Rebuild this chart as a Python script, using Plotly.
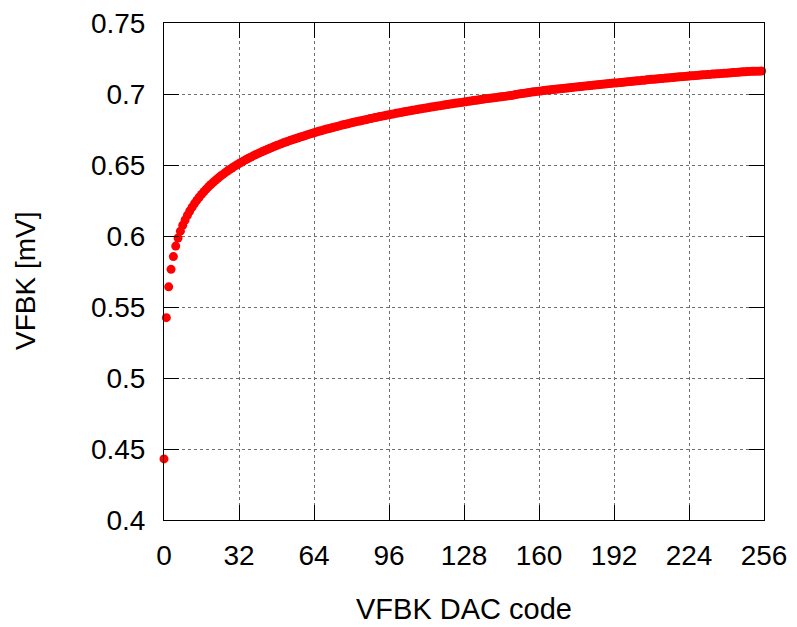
import plotly.graph_objects as go

# DAC code sweep 0..255 and the measured VFBK level at each code
dac_code = list(range(256))

vfbk = [
    0.4430, 0.5425, 0.5642, 0.5765, 0.5855, 0.5929, 0.5986, 0.6034,
    0.6076, 0.6113, 0.6146, 0.6176, 0.6203, 0.6228, 0.6251, 0.6273,
    0.6293, 0.6312, 0.6330, 0.6347, 0.6363, 0.6378, 0.6392, 0.6406,
    0.6420, 0.6432, 0.6445, 0.6457, 0.6468, 0.6479, 0.6490, 0.6500,
    0.6510, 0.6519, 0.6529, 0.6538, 0.6547, 0.6555, 0.6564, 0.6572,
    0.6580, 0.6587, 0.6595, 0.6602, 0.6609, 0.6616, 0.6623, 0.6630,
    0.6637, 0.6643, 0.6649, 0.6656, 0.6662, 0.6668, 0.6674, 0.6679,
    0.6685, 0.6690, 0.6696, 0.6701, 0.6706, 0.6712, 0.6717, 0.6722,
    0.6727, 0.6732, 0.6737, 0.6741, 0.6746, 0.6751, 0.6755, 0.6759,
    0.6764, 0.6768, 0.6772, 0.6777, 0.6781, 0.6785, 0.6789, 0.6793,
    0.6797, 0.6801, 0.6805, 0.6808, 0.6812, 0.6816, 0.6819, 0.6823,
    0.6827, 0.6830, 0.6834, 0.6837, 0.6841, 0.6844, 0.6847, 0.6851,
    0.6854, 0.6857, 0.6860, 0.6864, 0.6867, 0.6870, 0.6873, 0.6876,
    0.6879, 0.6882, 0.6885, 0.6888, 0.6891, 0.6894, 0.6897, 0.6899,
    0.6902, 0.6905, 0.6908, 0.6910, 0.6913, 0.6916, 0.6918, 0.6921,
    0.6924, 0.6926, 0.6929, 0.6931, 0.6934, 0.6937, 0.6939, 0.6941,
    0.6944, 0.6946, 0.6949, 0.6951, 0.6954, 0.6956, 0.6958, 0.6961,
    0.6963, 0.6966, 0.6968, 0.6970, 0.6972, 0.6974, 0.6976, 0.6979,
    0.6981, 0.6983, 0.6985, 0.6987, 0.6989, 0.6992, 0.6996, 0.6999,
    0.7002, 0.7004, 0.7006, 0.7008, 0.7011, 0.7014, 0.7016, 0.7018,
    0.7020, 0.7022, 0.7024, 0.7026, 0.7028, 0.7030, 0.7031, 0.7033,
    0.7035, 0.7037, 0.7039, 0.7040, 0.7042, 0.7044, 0.7046, 0.7048,
    0.7050, 0.7051, 0.7053, 0.7055, 0.7057, 0.7058, 0.7060, 0.7062,
    0.7064, 0.7065, 0.7067, 0.7068, 0.7070, 0.7072, 0.7074, 0.7075,
    0.7077, 0.7078, 0.7080, 0.7081, 0.7083, 0.7085, 0.7087, 0.7088,
    0.7090, 0.7091, 0.7093, 0.7094, 0.7096, 0.7097, 0.7100, 0.7102,
    0.7104, 0.7103, 0.7105, 0.7107, 0.7109, 0.7110, 0.7112, 0.7113,
    0.7115, 0.7116, 0.7118, 0.7119, 0.7121, 0.7122, 0.7124, 0.7125,
    0.7127, 0.7128, 0.7129, 0.7130, 0.7132, 0.7133, 0.7135, 0.7136,
    0.7137, 0.7138, 0.7140, 0.7141, 0.7142, 0.7143, 0.7145, 0.7146,
    0.7147, 0.7148, 0.7150, 0.7151, 0.7152, 0.7153, 0.7155, 0.7156,
    0.7157, 0.7158, 0.7159, 0.7160, 0.7160, 0.7161, 0.7161, 0.7162,
]

x_ticks = [0, 32, 64, 96, 128, 160, 192, 224, 256]
y_ticks = [0.4, 0.45, 0.5, 0.55, 0.6, 0.65, 0.7, 0.75]
y_tick_text = ["0.4", "0.45", "0.5", "0.55", "0.6", "0.65", "0.7", "0.75"]

FONT = "Liberation Sans, Arial, Helvetica, sans-serif"

fig = go.Figure(
    go.Scatter(
        x=dac_code,
        y=vfbk,
        mode="markers",
        marker=dict(color="#ff0000", size=9, line=dict(width=0)),
        cliponaxis=False,
        showlegend=False,
    )
)

axis_common = dict(
    showline=True,
    linecolor="black",
    linewidth=1,
    mirror="ticks",
    ticks="inside",
    ticklen=15,
    tickwidth=1,
    tickcolor="black",
    showgrid=True,
    gridcolor="#6e6e6e",
    griddash="dot",
    gridwidth=1,
    zeroline=False,
    automargin=False,
    tickfont=dict(family=FONT, size=28, color="black"),
)

fig.update_xaxes(
    range=[0, 256],
    tickvals=x_ticks,
    ticktext=[str(v) for v in x_ticks],
    ticklabelstandoff=10,
    **axis_common,
)
fig.update_yaxes(
    range=[0.4, 0.75],
    tickvals=y_ticks,
    ticktext=y_tick_text,
    ticklabelstandoff=12,
    **axis_common,
)

fig.add_annotation(
    text="VFBK DAC code",
    xref="paper", yref="paper",
    x=0.5, y=-0.179,
    xanchor="center", yanchor="middle",
    showarrow=False,
    font=dict(family=FONT, size=29, color="black"),
)
fig.add_annotation(
    text="VFBK [mV]",
    xref="paper", yref="paper",
    x=-0.23, y=0.481,
    xanchor="center", yanchor="middle",
    textangle=-90,
    showarrow=False,
    font=dict(family=FONT, size=28, color="black"),
)

fig.update_layout(
    width=797,
    height=627,
    margin=dict(l=164, r=33, t=23, b=107, autoexpand=False),
    paper_bgcolor="white",
    plot_bgcolor="white",
)

fig.write_html("out.html")
